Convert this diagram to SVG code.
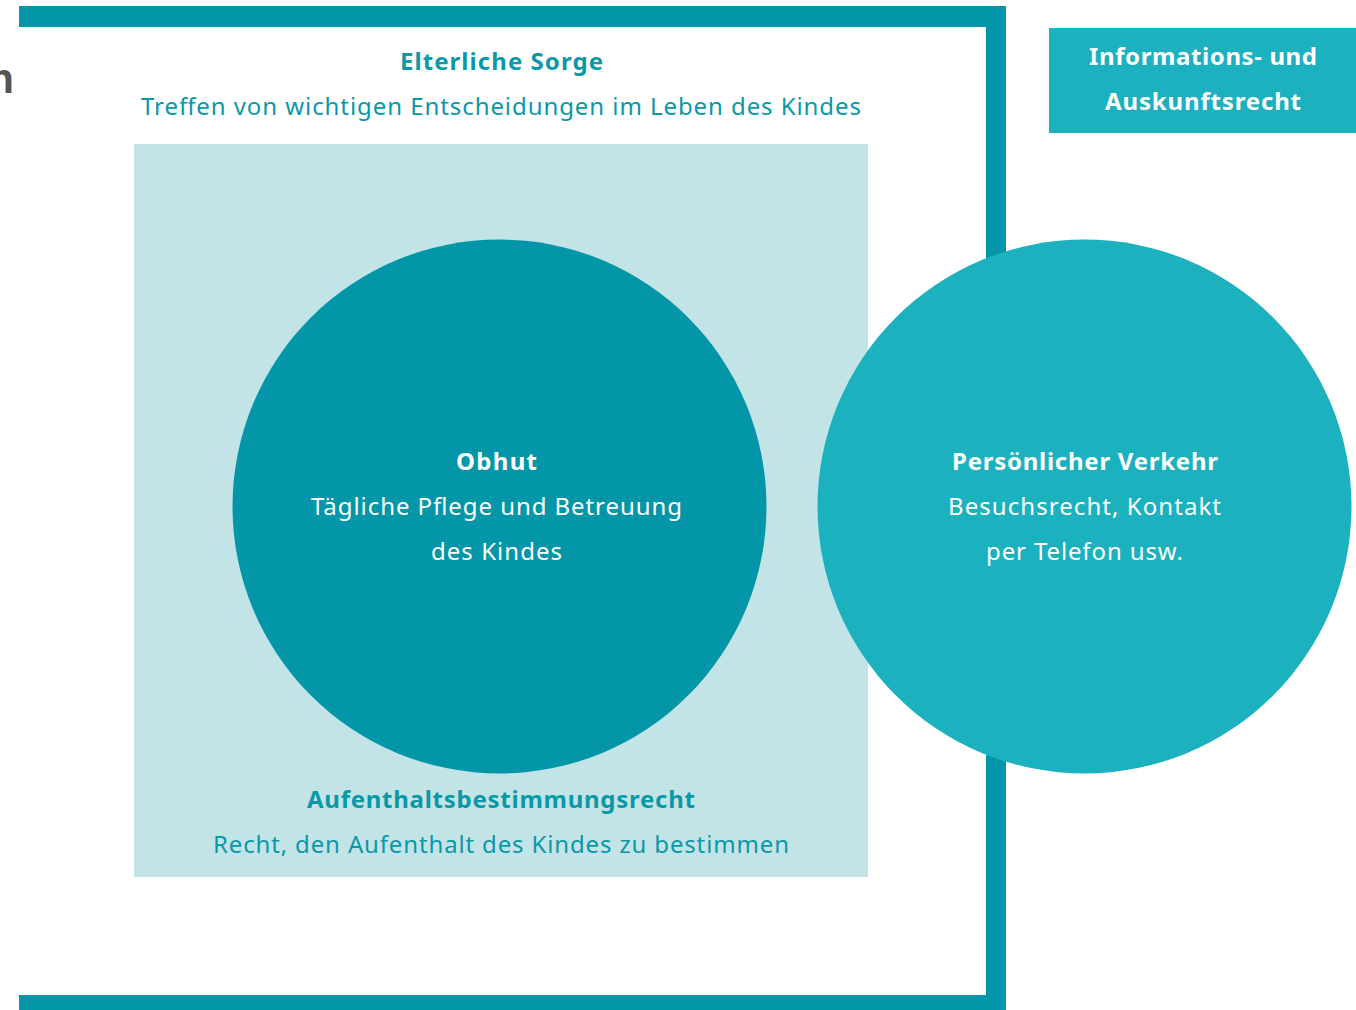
<svg xmlns="http://www.w3.org/2000/svg" width="1356" height="1010" viewBox="0 0 1356 1010">
<style>
.t{font-family:"Noto Sans","Liberation Sans",sans-serif;font-size:24px;text-anchor:middle}
.b{font-weight:bold}
.teal{fill:#0a98a9}
.w{fill:#ffffff}
.bar{fill:#0396a8}
</style>
<rect width="1356" height="1010" fill="#ffffff"/>
<text x="14" y="93" font-family="Liberation Sans, sans-serif" font-size="42" font-weight="bold" fill="#555555" text-anchor="end">n</text>
<g id="frame">
<rect class="bar" x="19" y="6" width="987" height="21"/>
<rect class="bar" x="986" y="6" width="20" height="1004"/>
<rect class="bar" x="19" y="995" width="987" height="15"/>
</g>
<g id="elterliche-sorge">
<text class="t b teal" x="501.5" y="70" textLength="203" lengthAdjust="spacing">Elterliche Sorge</text>
<text class="t teal" x="501" y="115" textLength="720" lengthAdjust="spacing">Treffen von wichtigen Entscheidungen im Leben des Kindes</text>
</g>
<g id="aufenthalt">
<rect x="134" y="144" width="734" height="733" fill="#c3e4e6"/>
<text class="t b teal" x="501" y="808" textLength="388" lengthAdjust="spacing">Aufenthaltsbestimmungsrecht</text>
<text class="t teal" x="501" y="853" textLength="576" lengthAdjust="spacing">Recht, den Aufenthalt des Kindes zu bestimmen</text>
</g>
<g id="obhut">
<circle cx="499.5" cy="506.5" r="267" fill="#0396a8"/>
<text class="t b w" x="496.5" y="470" textLength="81" lengthAdjust="spacing">Obhut</text>
<text class="t w" x="496.5" y="515" textLength="371" lengthAdjust="spacing">Tägliche Pflege und Betreuung</text>
<text class="t w" x="496.5" y="560" textLength="131" lengthAdjust="spacing">des Kindes</text>
</g>
<g id="verkehr">
<circle cx="1084.5" cy="506.5" r="267" fill="#1cb1be"/>
<text class="t b w" x="1085" y="470" textLength="266" lengthAdjust="spacing">Persönlicher Verkehr</text>
<text class="t w" x="1084.5" y="515" textLength="273" lengthAdjust="spacing">Besuchsrecht, Kontakt</text>
<text class="t w" x="1084.5" y="560" textLength="197" lengthAdjust="spacing">per Telefon usw.</text>
</g>
<g id="info">
<rect x="1049" y="28" width="307" height="105" fill="#1cb1be"/>
<text class="t b w" x="1203" y="65" textLength="228" lengthAdjust="spacing">Informations- und</text>
<text class="t b w" x="1203" y="110" textLength="196" lengthAdjust="spacing">Auskunftsrecht</text>
</g>
<g id="connectors"></g>
</svg>
